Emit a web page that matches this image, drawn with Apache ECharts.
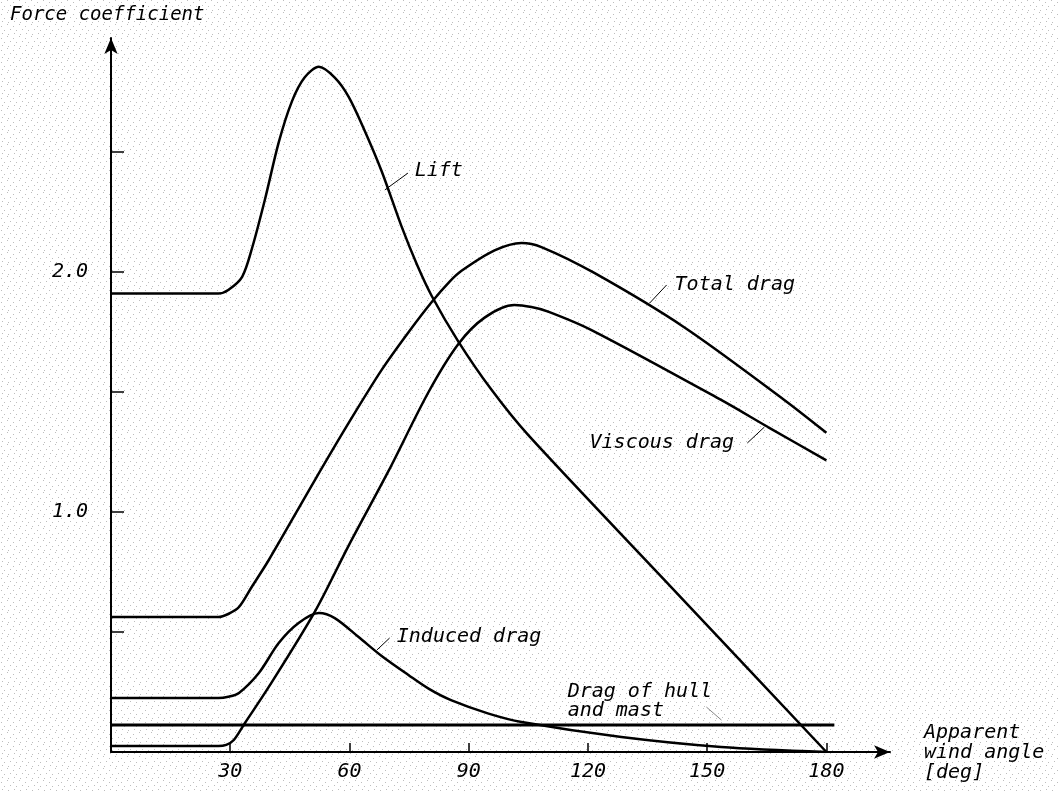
<!DOCTYPE html>
<html>
<head>
<meta charset="utf-8">
<script src="https://cdn.jsdelivr.net/npm/echarts@6/dist/echarts.min.js"></script>
<style>
  html, body { margin: 0; padding: 0; background: #fff; }
  #chart { width: 1058px; height: 791px; }
</style>
</head>
<body>
<div id="chart"></div>
<script>
// [apparent wind angle (deg), force coefficient]
var liftData = [[0, 1.91], [27, 1.91], [29.5, 1.925], [33, 1.98], [35.5, 2.10], [38.7, 2.30],
    [42.2, 2.54], [45.5, 2.71], [48.7, 2.81], [52.3, 2.855], [56.3, 2.81], [59.8, 2.73],
    [63.8, 2.59], [68.1, 2.42], [73.1, 2.19], [77, 2.03], [80.7, 1.90], [87.4, 1.71],
    [95.7, 1.51], [105, 1.32], [141, 0.686], [180, 0]];
var totalDragData = [[0, 0.5625], [27, 0.5625], [29.5, 0.575], [32.2, 0.604], [35.4, 0.6875],
    [39.7, 0.80], [51.3, 1.133], [59.8, 1.371], [68.1, 1.592], [74.9, 1.75], [80.7, 1.875],
    [85.2, 1.96], [88.2, 2.005], [96.5, 2.09], [103.3, 2.121], [108.3, 2.104], [121.6, 1.996],
    [144.2, 1.77], [169.4, 1.467], [180, 1.33]];
var viscousDragData = [[0, 0.025], [27, 0.025], [29, 0.03], [30.9, 0.05], [33.7, 0.121],
    [39.7, 0.271], [51.3, 0.585], [59.8, 0.86], [69.8, 1.17], [79.9, 1.50], [87.4, 1.70],
    [94, 1.81], [101.5, 1.8625], [105.8, 1.854], [110, 1.835], [120.9, 1.758], [153.5, 1.467],
    [165.3, 1.354], [180, 1.215]];
var inducedDragData = [[0, 0.225], [27, 0.225], [29.5, 0.23], [32.2, 0.246], [37.2, 0.329],
    [42.2, 0.454], [47.2, 0.5375], [52.3, 0.579], [56.3, 0.558], [62.3, 0.479], [68.1, 0.40],
    [74.9, 0.32], [80, 0.263], [85.7, 0.215], [95, 0.16], [103.3, 0.125], [128.4, 0.0625],
    [153.5, 0.021], [180, 0]];
var hullMastData = [[0, 0.1125], [182, 0.1125]];

var xTicks = [30, 60, 90, 120, 150, 180];
var yTicks = [0.5, 1, 1.5, 2, 2.5];
var yLabels = [1, 2];

// curve labels: text anchor and leader line, in data coordinates
var curveLabels = [
    { text: "Lift", at: [76.4, 2.42], lead: [[68.9, 2.342], [74.7, 2.412]], color: "#000" },
    { text: "Total drag", at: [141.8, 1.946], lead: [[135.5, 1.87], [139.8, 1.946]], color: "#000" },
    { text: "Viscous drag", at: [120.4, 1.2875], lead: [[160.1, 1.2875], [164.4, 1.354]], color: "#000" },
    { text: "Induced drag", at: [71.9, 0.479], lead: [[66.9, 0.425], [70.1, 0.475]], color: "#000" },
    { text: "Drag of hull\nand mast", at: [114.9, 0.21], lead: [[149.8, 0.1875], [153.6, 0.133]], color: "#888" }
];

// wide plotter-style lettering
var FONT = "DejaVu Sans Mono";

// light stipple like the printed figure
function stipple() {
    var c = document.createElement("canvas");
    c.width = 12; c.height = 12;
    var g = c.getContext("2d");
    g.fillStyle = "#fff";
    g.fillRect(0, 0, 12, 12);
    g.fillStyle = "#bdbdbd";
    var pts = [[1, 2], [7, 0], [4, 6], [10, 5], [2, 9], [8, 10]];
    pts.forEach(function (p) { g.fillRect(p[0], p[1], 1, 1); });
    return c;
}

function curve(name, data, width) {
    return {
        name: name,
        type: "line",
        data: data,
        showSymbol: false,
        smooth: 0.3,
        silent: true,
        lineStyle: { color: "#000", width: width || 2.5 }
    };
}

var chart = echarts.init(document.getElementById("chart"));

var option = {
    animation: false,
    backgroundColor: { image: stipple(), repeat: "repeat" },
    grid: { left: 111, right: 168, top: 38, bottom: 39 },
    xAxis: {
        type: "value",
        min: 0,
        max: 196,
        interval: 30,
        axisLine: {
            symbol: ["none", "arrow"],
            symbolSize: [10, 16],
            lineStyle: { color: "#000", width: 2 }
        },
        axisTick: { inside: true, length: 9, customValues: xTicks, lineStyle: { color: "#000", width: 1.5 } },
        axisLabel: {
            customValues: xTicks,
            margin: 10,
            color: "#000",
            fontFamily: FONT,
            fontStyle: "italic",
            fontSize: 20
        },
        splitLine: { show: false }
    },
    yAxis: {
        type: "value",
        min: 0,
        max: 2.975,
        interval: 0.5,
        axisLine: {
            symbol: ["none", "arrow"],
            symbolSize: [10, 16],
            lineStyle: { color: "#000", width: 2 }
        },
        axisTick: { inside: true, length: 13, customValues: yTicks, lineStyle: { color: "#000", width: 1.5 } },
        axisLabel: {
            customValues: yLabels,
            margin: 23,
            color: "#000",
            fontFamily: FONT,
            fontStyle: "italic",
            fontSize: 20,
            formatter: function (v) { return v.toFixed(1); }
        },
        splitLine: { show: false }
    },
    series: [
        curve("Lift", liftData),
        curve("Total drag", totalDragData),
        curve("Viscous drag", viscousDragData),
        curve("Induced drag", inducedDragData),
        curve("Drag of hull and mast", hullMastData, 3)
    ]
};

chart.setOption(option);

// place the curve labels and fixed titles once the scales exist
var els = [
    {
        type: "text", left: 10, top: 6,
        style: { text: "Force coefficient", fill: "#000", font: "italic 19px '" + FONT + "'" }
    },
    {
        type: "text", left: 924, top: 723,
        style: { text: "Apparent\nwind angle\n[deg]", fill: "#000", lineHeight: 20,
            font: "italic 20px '" + FONT + "'" }
    }
];
curveLabels.forEach(function (l) {
    var p = chart.convertToPixel({ gridIndex: 0 }, l.at);
    var a = chart.convertToPixel({ gridIndex: 0 }, l.lead[0]);
    var b = chart.convertToPixel({ gridIndex: 0 }, l.lead[1]);
    els.push({
        type: "line", silent: true,
        shape: { x1: a[0], y1: a[1], x2: b[0], y2: b[1] },
        style: { stroke: l.color, lineWidth: 1 }
    });
    els.push({
        type: "text", silent: true, x: p[0], y: p[1],
        style: { text: l.text, fill: "#000", lineHeight: 19, verticalAlign: "middle",
            font: "italic 20px '" + FONT + "'" }
    });
});
chart.setOption({ graphic: { elements: els } });
</script>
</body>
</html>
